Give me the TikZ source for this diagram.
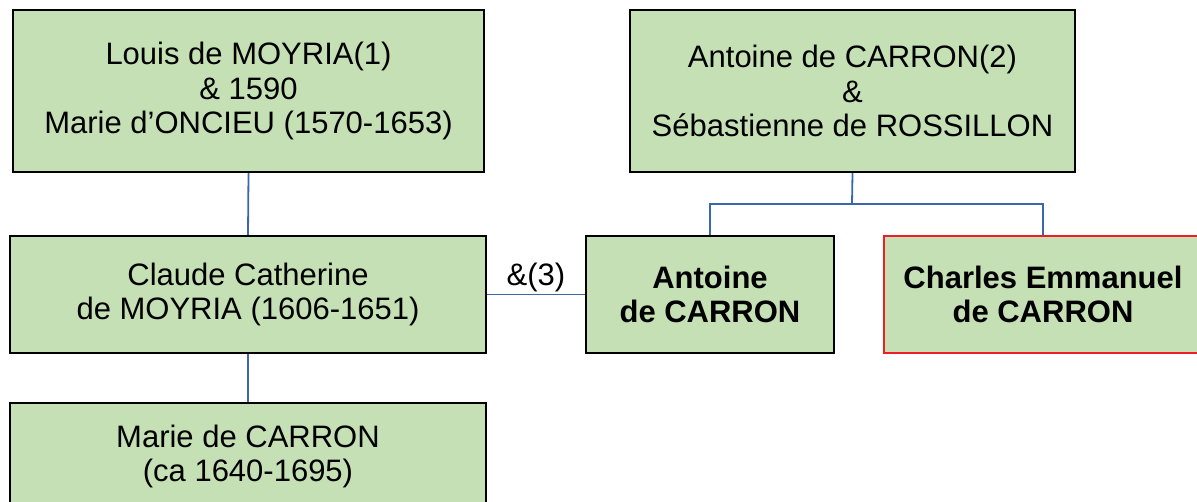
\documentclass[tikz,border=0pt]{standalone}
\usepackage{fontspec}
\setmainfont{Liberation Sans}
\definecolor{boxfill}{HTML}{C5E0B4}
\definecolor{linkblue}{HTML}{3B68AD}
\definecolor{redline}{HTML}{EE1C25}
\begin{document}
\begin{tikzpicture}[x=1pt,y=-1pt,
  person/.style={draw=black,line width=2.3pt,fill=boxfill,rectangle,inner sep=0pt,
    align=center,font=\fontsize{31}{34.5}\selectfont},
  link/.style={draw=linkblue,line width=1.8pt}]
\useasboundingbox (0,0) rectangle (1197,501);
\clip (0,0) rectangle (1197,501);
\node[person,minimum width=471pt,minimum height=162pt] (A) at (248.5,91)
  {Louis de MOYRIA(1)\\\& 1590\\Marie d’ONCIEU (1570-1653)};
\node[person,minimum width=445pt,minimum height=162pt] (B) at (852.5,91)
  {Antoine de CARRON(2)\\\&\\Sébastienne de ROSSILLON};
\node[person,minimum width=476pt,minimum height=117pt] (C) at (248,294.5)
  {Claude Catherine\\de MOYRIA (1606-1651)};
\node[person,minimum width=248pt,minimum height=117pt,font=\fontsize{31}{34.5}\selectfont\bfseries] (D) at (710,294.5)
  {Antoine\\de CARRON};
\node[person,draw=redline,minimum width=318pt,minimum height=117pt,font=\fontsize{31}{34.5}\selectfont\bfseries] (E) at (1043,294.5)
  {Charles Emmanuel\\de CARRON};
\node[person,minimum width=476pt,minimum height=107pt] (F) at (248,456.5)
  {Marie de CARRON\\(ca 1640-1695)};
\coordinate (J) at (852,204);
\draw[link] (A.south) -- (C.north);
\draw[link] (C.south) -- (F.north);
\draw[link] (C.east) -- node[above=-2pt,font=\fontsize{31}{34.5}\selectfont,text=black] {\&(3)} (D.west);
\draw[link] (B.south) -- (J);
\draw[link] (D.north) |- (J) -| (E.north);
\end{tikzpicture}
\end{document}
